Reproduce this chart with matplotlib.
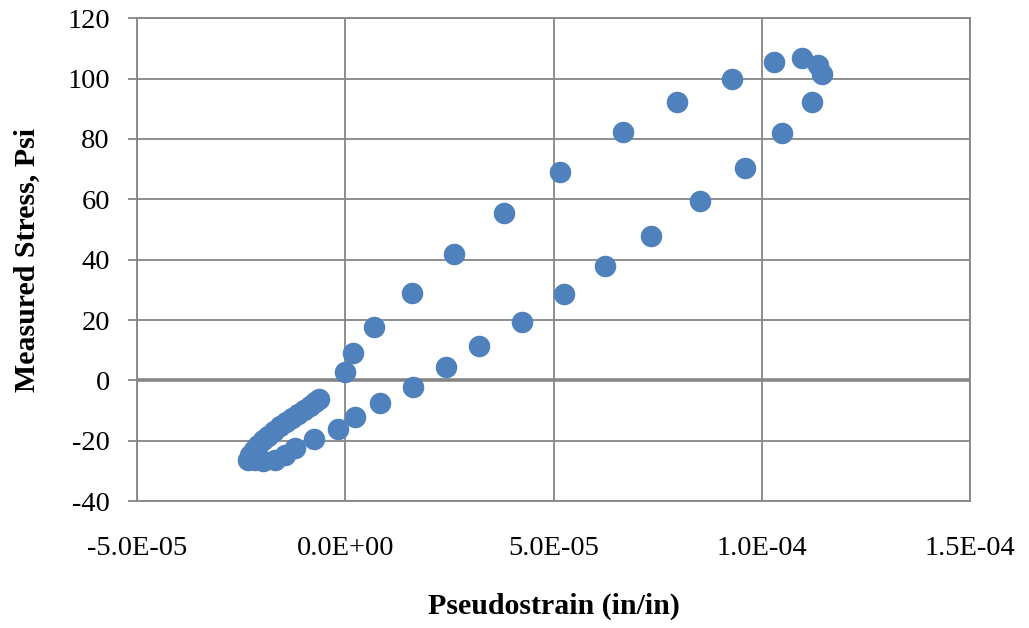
import matplotlib
matplotlib.use("Agg")
import matplotlib.pyplot as plt

# Loading branch (bottom-left up to peak), strain in units of 1e-5 in/in
load_strain = [-2.34, -2.29, -2.19, -2.10, -1.98, -1.86, -1.71, -1.57, -1.42,
               -1.28, -1.14, -0.99, -0.85, -0.73, -0.63, 0.00, 0.19, 0.69,
               1.60, 2.61, 3.81, 5.15, 6.66, 7.96, 9.28, 10.30, 10.96,
               11.35, 11.44]
load_stress = [-26.4, -24.8, -23.1, -21.5, -19.8, -18.5, -16.8, -15.2, -13.8,
               -12.5, -11.2, -9.9, -8.5, -7.2, -6.2, 2.7, 9.0, 17.6,
               28.9, 41.8, 55.4, 68.9, 82.2, 92.1, 100.0, 105.4, 106.7,
               104.4, 101.4]

# Unloading branch (peak back down to bottom-left)
unload_strain = [11.20, 10.48, 9.59, 8.51, 7.34, 6.24, 5.25, 4.24, 3.21,
                 2.42, 1.63, 0.83, 0.23, -0.18, -0.75, -1.21, -1.45, -1.69,
                 -1.98, -2.17]
unload_stress = [92.4, 81.9, 70.3, 59.3, 47.7, 37.9, 28.5, 19.3, 11.4,
                 4.4, -2.2, -7.5, -12.2, -16.2, -19.5, -22.4, -24.7, -26.4,
                 -26.8, -26.4]

x_ticks = [-5e-5, 0.0, 5e-5, 1e-4, 1.5e-4]
x_tick_labels = ['-5.0E-05', '0.0E+00', '5.0E-05', '1.0E-04', '1.5E-04']
y_ticks = [-40, -20, 0, 20, 40, 60, 80, 100, 120]

strain = [s * 1e-5 for s in load_strain + unload_strain]
stress = load_stress + unload_stress

plt.rcParams['font.family'] = ['Liberation Serif', 'DejaVu Serif']
plt.rcParams['axes.unicode_minus'] = False

fig = plt.figure(figsize=(10.29, 6.28), dpi=100)
ax = fig.add_axes([0.133, 0.202, 0.810, 0.769])

grid_color = '#868686'
ax.set_xlim(-5e-5, 1.5e-4)
ax.set_ylim(-40, 120)
ax.set_xticks(x_ticks)
ax.set_xticklabels(x_tick_labels)
ax.set_yticks(y_ticks)
ax.grid(True, color=grid_color, linewidth=1.3)
ax.set_axisbelow(True)
ax.axhline(0, color=grid_color, linewidth=2.6, zorder=1)

for sp in ax.spines.values():
    sp.set_color(grid_color)
    sp.set_linewidth(1.3)

ax.tick_params(axis='y', length=6.5, width=1.3, color=grid_color,
               pad=13, labelsize=20.5)
ax.tick_params(axis='x', length=0, pad=25, labelsize=20.5)

ax.plot(strain, stress, linestyle='none', marker='o', markersize=15.5,
        color='#4F81BD', markeredgewidth=0, zorder=3, clip_on=False)

ax.set_xlabel('Pseudostrain (in/in)', fontsize=21.5, fontweight='bold')
ax.set_ylabel('Measured Stress, Psi', fontsize=21.5, fontweight='bold')
ax.xaxis.set_label_coords(0.5, -0.19)
ax.yaxis.set_label_coords(-0.116, 0.5)

fig.savefig('out.png', dpi=100)
